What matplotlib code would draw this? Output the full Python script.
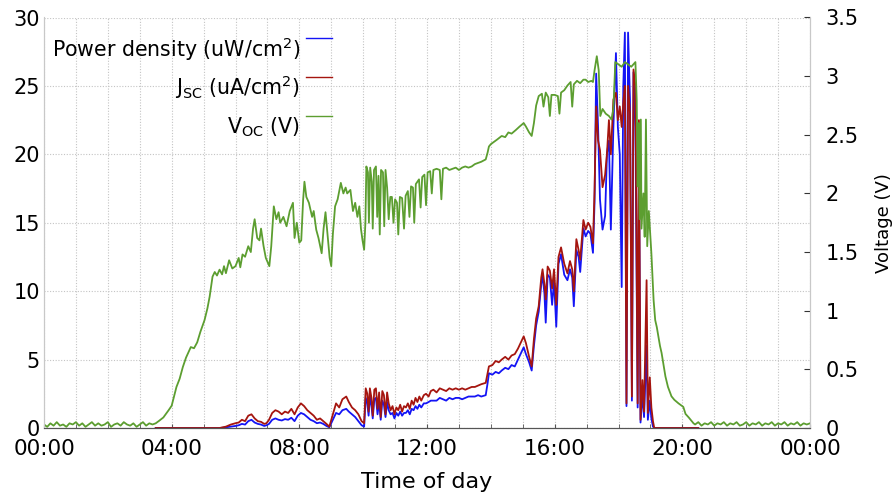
import numpy as np
import matplotlib
matplotlib.use("Agg")
import matplotlib.pyplot as plt
from matplotlib.lines import Line2D
from matplotlib.ticker import MultipleLocator, FormatStrFormatter

# x axis: hours of the day
time_ticks = [0, 4, 8, 12, 16, 20, 24]
time_labels = ["00:00", "04:00", "08:00", "12:00", "16:00", "20:00", "00:00"]

# Voc readings (hour, volts)
voc_night_am = [
    (0.0, 0.03), (0.1, 0.01), (0.2, 0.04), (0.3, 0.02), (0.4, 0.05), (0.5, 0.02),
    (0.6, 0.03), (0.7, 0.01), (0.8, 0.04), (0.9, 0.03), (1.0, 0.05), (1.1, 0.02),
    (1.2, 0.04), (1.3, 0.01), (1.4, 0.03), (1.5, 0.05), (1.6, 0.02), (1.7, 0.04),
    (1.8, 0.02), (1.9, 0.03), (2.0, 0.05), (2.1, 0.01), (2.2, 0.03), (2.3, 0.04),
    (2.4, 0.02), (2.5, 0.05), (2.6, 0.03), (2.7, 0.02), (2.8, 0.04), (2.9, 0.01),
    (3.0, 0.03), (3.1, 0.05), (3.2, 0.02), (3.3, 0.04), (3.4, 0.03),
]
voc_day = [
    (3.5, 0.04), (3.6, 0.06), (3.74, 0.09), (3.9, 0.15), (4.0, 0.19), (4.15, 0.35),
    (4.25, 0.42), (4.35, 0.52), (4.45, 0.60), (4.6, 0.69), (4.7, 0.68), (4.8, 0.73),
    (4.9, 0.82), (5.03, 0.92), (5.12, 1.02), (5.19, 1.12), (5.28, 1.29), (5.35, 1.33),
    (5.42, 1.30), (5.5, 1.35), (5.58, 1.31), (5.64, 1.38), (5.7, 1.32), (5.8, 1.43),
    (5.9, 1.36), (6.0, 1.38), (6.1, 1.45), (6.15, 1.37), (6.22, 1.48), (6.3, 1.46),
    (6.4, 1.55), (6.48, 1.50), (6.55, 1.70), (6.6, 1.78), (6.68, 1.62), (6.75, 1.60),
    (6.8, 1.70), (6.88, 1.55), (6.95, 1.45), (7.06, 1.38), (7.12, 1.55), (7.2, 1.89),
    (7.28, 1.78), (7.35, 1.84), (7.4, 1.75), (7.5, 1.80), (7.6, 1.72), (7.7, 1.85),
    (7.8, 1.92), (7.85, 1.62), (7.92, 1.75), (8.0, 1.58), (8.06, 1.60), (8.12, 1.95),
    (8.16, 2.10), (8.22, 1.97), (8.3, 1.92), (8.4, 1.80), (8.45, 1.85), (8.53, 1.69),
    (8.6, 1.62), (8.7, 1.49), (8.76, 1.70), (8.82, 1.84), (8.9, 1.60), (8.95, 1.45),
    (9.0, 1.38), (9.05, 1.65), (9.12, 1.89), (9.2, 1.95), (9.3, 2.09), (9.38, 2.00),
    (9.45, 2.05), (9.5, 2.00), (9.6, 2.03), (9.68, 1.85), (9.75, 1.92), (9.82, 1.80),
    (9.88, 1.89), (9.93, 1.70), (9.98, 1.60), (10.03, 1.52), (10.07, 1.75), (10.1, 2.23),
    (10.15, 2.18), (10.18, 1.75), (10.22, 2.22), (10.27, 2.10), (10.3, 1.70), (10.34, 2.20),
    (10.4, 2.23), (10.44, 1.80), (10.48, 2.15), (10.52, 1.65), (10.56, 2.20), (10.62, 2.18),
    (10.66, 1.72), (10.7, 2.20), (10.75, 2.05), (10.8, 1.78), (10.85, 1.97), (10.9, 1.97),
    (10.95, 1.75), (11.0, 1.95), (11.06, 1.92), (11.1, 1.65), (11.15, 1.97), (11.22, 1.96),
    (11.28, 1.70), (11.33, 1.98), (11.4, 2.02), (11.45, 1.80), (11.5, 2.06), (11.56, 2.05),
    (11.6, 1.75), (11.65, 2.08), (11.75, 2.12), (11.8, 1.88), (11.85, 2.14), (11.92, 2.16),
    (11.97, 1.90), (12.02, 2.18), (12.1, 2.19), (12.15, 2.00), (12.2, 2.20), (12.3, 2.21),
    (12.4, 2.20), (12.45, 1.95), (12.5, 2.21), (12.6, 2.22), (12.7, 2.20), (12.8, 2.21),
    (12.9, 2.22), (13.0, 2.20), (13.1, 2.22), (13.2, 2.23), (13.3, 2.22), (13.4, 2.23),
    (13.5, 2.25), (13.6, 2.26), (13.7, 2.27), (13.84, 2.29), (13.9, 2.35), (13.94, 2.40),
    (14.0, 2.42), (14.1, 2.44), (14.2, 2.46), (14.34, 2.49), (14.45, 2.48), (14.55, 2.52),
    (14.65, 2.51), (14.78, 2.54), (14.9, 2.57), (15.03, 2.60), (15.1, 2.57), (15.2, 2.52),
    (15.28, 2.49), (15.35, 2.60), (15.42, 2.75), (15.5, 2.83), (15.6, 2.85), (15.65, 2.74),
    (15.72, 2.86), (15.8, 2.82), (15.85, 2.66), (15.9, 2.84), (16.0, 2.84), (16.1, 2.83),
    (16.15, 2.68), (16.2, 2.86), (16.3, 2.88), (16.4, 2.92), (16.5, 2.95), (16.55, 2.74),
    (16.6, 2.93), (16.7, 2.96), (16.8, 2.94), (16.9, 2.97), (16.97, 2.97), (17.05, 2.95),
    (17.15, 2.96), (17.2, 2.95), (17.25, 3.05), (17.32, 3.17), (17.38, 3.05), (17.43, 2.66),
    (17.5, 2.72), (17.6, 2.68), (17.7, 2.66), (17.78, 2.63), (17.84, 2.72), (17.9, 3.12),
    (18.0, 3.10), (18.1, 3.08), (18.2, 3.12), (18.3, 3.10), (18.4, 3.08), (18.53, 3.12),
    (18.57, 2.80), (18.6, 2.06), (18.63, 2.60), (18.66, 1.78), (18.7, 2.63), (18.72, 1.70),
    (18.78, 2.00), (18.82, 1.63), (18.86, 2.63), (18.9, 1.55), (18.95, 1.85), (19.03, 1.49),
    (19.1, 1.09), (19.15, 0.92), (19.2, 0.86), (19.3, 0.70), (19.35, 0.64), (19.47, 0.44),
    (19.55, 0.35), (19.66, 0.27), (19.75, 0.24), (19.88, 0.21), (20.03, 0.18), (20.1, 0.12),
    (20.2, 0.09), (20.35, 0.04),
]
voc_night_pm = [
    (20.4, 0.03), (20.5, 0.05), (20.6, 0.02), (20.7, 0.04), (20.8, 0.03), (20.9, 0.05),
    (21.0, 0.02), (21.1, 0.04), (21.2, 0.03), (21.3, 0.05), (21.4, 0.02), (21.5, 0.04),
    (21.6, 0.03), (21.7, 0.05), (21.8, 0.02), (21.9, 0.03), (22.0, 0.05), (22.1, 0.02),
    (22.2, 0.04), (22.3, 0.03), (22.4, 0.05), (22.5, 0.02), (22.6, 0.04), (22.7, 0.03),
    (22.8, 0.05), (22.9, 0.02), (23.0, 0.04), (23.1, 0.03), (23.2, 0.05), (23.3, 0.02),
    (23.4, 0.04), (23.5, 0.03), (23.6, 0.05), (23.7, 0.02), (23.8, 0.04), (23.9, 0.03),
    (24.0, 0.04),
]

# (hour, Jsc uA/cm2, power density uW/cm2)
current_readings = [
    (3.5, 0.0, 0.0), (5.5, 0.0, 0.0), (5.6, 0.05, 0.02), (5.7, 0.1, 0.05),
    (5.85, 0.25, 0.1), (6.0, 0.35, 0.15), (6.1, 0.4, 0.2), (6.2, 0.6, 0.3),
    (6.3, 0.5, 0.25), (6.4, 0.9, 0.5), (6.5, 1.0, 0.6), (6.6, 0.7, 0.4),
    (6.7, 0.5, 0.3), (6.8, 0.45, 0.25), (6.9, 0.3, 0.15), (6.97, 0.35, 0.2),
    (7.05, 0.6, 0.3), (7.15, 1.1, 0.6), (7.25, 1.3, 0.7), (7.35, 1.2, 0.6),
    (7.45, 1.0, 0.55), (7.55, 1.2, 0.65), (7.65, 1.1, 0.6), (7.75, 1.4, 0.75),
    (7.85, 1.0, 0.5), (7.95, 1.5, 0.9), (8.05, 1.8, 1.1), (8.15, 1.6, 1.0),
    (8.25, 1.3, 0.8), (8.35, 1.1, 0.6), (8.45, 0.9, 0.5), (8.55, 0.6, 0.35),
    (8.65, 0.7, 0.4), (8.75, 0.5, 0.3), (8.85, 0.3, 0.15), (8.94, 0.1, 0.05),
    (9.05, 1.0, 0.6), (9.15, 1.8, 1.1), (9.25, 1.5, 1.0), (9.35, 2.1, 1.3),
    (9.47, 2.3, 1.4), (9.55, 1.9, 1.2), (9.65, 1.5, 1.0), (9.75, 1.3, 0.8),
    (9.85, 1.0, 0.5), (9.95, 0.5, 0.2), (10.03, 0.35, 0.1), (10.08, 2.9, 2.2),
    (10.13, 2.5, 1.8), (10.17, 1.2, 0.9), (10.21, 2.9, 2.3), (10.26, 2.2, 1.6),
    (10.3, 0.9, 0.7), (10.35, 2.8, 2.1), (10.4, 2.9, 2.2), (10.45, 1.4, 1.0),
    (10.5, 2.6, 1.9), (10.55, 0.8, 0.6), (10.6, 2.7, 2.0), (10.65, 2.4, 1.7),
    (10.7, 1.0, 0.8), (10.75, 2.6, 1.9), (10.8, 1.8, 1.3), (10.86, 1.3, 1.0),
    (10.92, 1.6, 1.1), (10.98, 1.0, 0.7), (11.04, 1.5, 1.1), (11.1, 1.3, 0.9),
    (11.16, 1.7, 1.2), (11.22, 1.2, 0.9), (11.28, 1.6, 1.1), (11.34, 1.5, 1.1),
    (11.4, 1.8, 1.3), (11.46, 1.4, 1.0), (11.52, 2.0, 1.4), (11.58, 1.7, 1.3),
    (11.64, 2.2, 1.6), (11.7, 1.9, 1.4), (11.76, 2.3, 1.7), (11.82, 2.0, 1.5),
    (11.9, 2.4, 1.8), (11.97, 2.5, 1.8), (12.05, 2.3, 1.9), (12.12, 2.7, 2.0),
    (12.2, 2.8, 2.0), (12.3, 2.6, 2.0), (12.4, 2.9, 2.2), (12.5, 2.8, 2.1),
    (12.6, 2.7, 2.0), (12.7, 2.9, 2.2), (12.8, 2.8, 2.1), (12.9, 2.9, 2.2),
    (13.0, 2.8, 2.2), (13.1, 2.9, 2.1), (13.2, 2.8, 2.2), (13.3, 2.9, 2.3),
    (13.4, 3.0, 2.3), (13.5, 3.0, 2.3), (13.6, 3.1, 2.4), (13.7, 3.2, 2.3),
    (13.84, 3.3, 2.4), (13.9, 4.0, 3.3), (13.94, 4.5, 4.0), (14.05, 4.6, 3.9),
    (14.15, 4.9, 4.1), (14.25, 4.8, 4.0), (14.34, 5.0, 4.2), (14.45, 5.2, 4.4),
    (14.55, 5.0, 4.3), (14.65, 5.3, 4.6), (14.75, 5.4, 4.5), (14.85, 5.8, 5.0),
    (14.95, 6.3, 5.5), (15.03, 6.7, 5.9), (15.1, 6.2, 5.4), (15.2, 5.2, 4.8),
    (15.28, 4.5, 4.2), (15.35, 6.5, 6.0), (15.42, 8.0, 7.5), (15.5, 8.9, 8.5),
    (15.58, 11.0, 10.5), (15.62, 11.6, 11.2), (15.68, 10.5, 9.8), (15.72, 9.4, 7.7),
    (15.78, 11.8, 11.2), (15.85, 11.5, 11.0), (15.92, 10.2, 9.0), (15.98, 11.6, 10.8),
    (16.05, 9.0, 7.4), (16.12, 12.5, 12.0), (16.2, 13.2, 12.7), (16.3, 12.0, 11.2),
    (16.4, 11.3, 10.8), (16.48, 12.2, 11.6), (16.55, 11.6, 11.0), (16.6, 10.0, 8.9),
    (16.68, 13.8, 13.0), (16.75, 13.0, 12.5), (16.8, 12.3, 11.4), (16.9, 15.2, 14.6),
    (16.97, 14.5, 14.0), (17.05, 15.0, 14.4), (17.12, 14.7, 14.2), (17.2, 13.5, 12.8),
    (17.25, 17.4, 16.5), (17.3, 23.5, 25.9), (17.36, 21.0, 22.0), (17.42, 20.3, 16.7),
    (17.5, 17.6, 14.5), (17.58, 18.5, 15.5), (17.64, 20.1, 20.1), (17.7, 22.5, 21.0),
    (17.76, 20.0, 14.5), (17.84, 24.0, 22.0), (17.92, 24.5, 27.4), (17.98, 22.5, 22.0),
    (18.04, 23.5, 20.0), (18.1, 22.0, 10.3), (18.15, 23.8, 25.0), (18.2, 25.0, 28.9),
    (18.25, 1.8, 1.6), (18.3, 25.0, 28.9), (18.36, 23.0, 24.0), (18.42, 2.3, 2.0),
    (18.47, 26.2, 26.0), (18.53, 25.0, 22.0), (18.6, 1.8, 1.5), (18.64, 22.5, 20.0),
    (18.69, 0.6, 0.4), (18.75, 3.5, 2.5), (18.8, 1.2, 0.8), (18.88, 10.8, 6.0),
    (18.92, 1.1, 0.6), (18.98, 3.7, 2.0), (19.03, 1.5, 0.7), (19.08, 0.5, 0.1),
    (19.12, 0.0, 0.0), (20.5, 0.0, 0.0),
]

BLUE = "#1414f5"
RED = "#a5150f"
GREEN = "#5c9e30"
GRID = "#c4c4c4"

voc_h, voc_v = np.array(voc_night_am + voc_day + voc_night_pm).T
cur_h, jsc, power = np.array(current_readings).T

fig = plt.figure(figsize=(8.96, 5), dpi=100)
ax = fig.add_axes([44 / 896, 72 / 500, 766 / 896, 410.5 / 500])

ax.plot(cur_h, power, color=BLUE, lw=1.3)
ax.plot(cur_h, jsc, color=RED, lw=1.3)

ax.set_xlim(0, 24)
ax.set_ylim(0, 30)
ax.set_xticks(time_ticks)
ax.set_xticklabels(time_labels)
ax.xaxis.set_minor_locator(MultipleLocator(1))
ax.yaxis.set_major_locator(MultipleLocator(5))
ax.grid(True, which="both", axis="x", color=GRID, ls=(0, (1, 1.5)), lw=0.8)
ax.grid(True, which="major", axis="y", color=GRID, ls=(0, (1, 1.5)), lw=0.8)
ax.tick_params(axis="x", which="both", direction="in", length=3, color="#555555",
               labelsize=15.5, pad=8)
ax.tick_params(axis="y", direction="in", length=0, labelsize=15, pad=3)
ax.set_xlabel("Time of day", fontsize=16, labelpad=9)

ax2 = ax.twinx()
ax2.plot(voc_h, voc_v, color=GREEN, lw=1.3)
ax2.set_ylim(0, 3.5)
ax2.yaxis.set_major_locator(MultipleLocator(0.5))
ax2.yaxis.set_major_formatter(FormatStrFormatter("%g"))
ax2.tick_params(axis="y", direction="in", length=4, color="#333333", labelsize=15, pad=11)
ax2.set_ylabel("Voltage (V)", fontsize=13, labelpad=12)

for a in (ax, ax2):
    a.spines["top"].set_visible(False)
    a.spines["left"].set_color("#c8c8c8")
    a.spines["right"].set_color("#c8c8c8")
    a.spines["bottom"].set_color("#555555")
    a.spines["left"].set_linewidth(0.8)
    a.spines["right"].set_linewidth(0.8)

# gnuplot-style key: right-aligned text with the line sample after it
key = [
    ("Power density (uW/cm$^{\\mathregular{2}}$)", BLUE, 57, 38),
    ("J$_{\\mathregular{SC}}$ (uA/cm$^{\\mathregular{2}}$)", RED, 95, 77),
    ("V$_{\\mathregular{OC}}$ (V)", GREEN, 133, 116),
]
for label, color, ty, ly in key:
    fig.text(300 / 896, 1 - ty / 500, label, ha="right", va="baseline", fontsize=14.8)
    fig.add_artist(Line2D([306 / 896, 332 / 896], [1 - ly / 500, 1 - ly / 500],
                          color=color, lw=1.0, transform=fig.transFigure))

fig.savefig("out.png", dpi=100)
